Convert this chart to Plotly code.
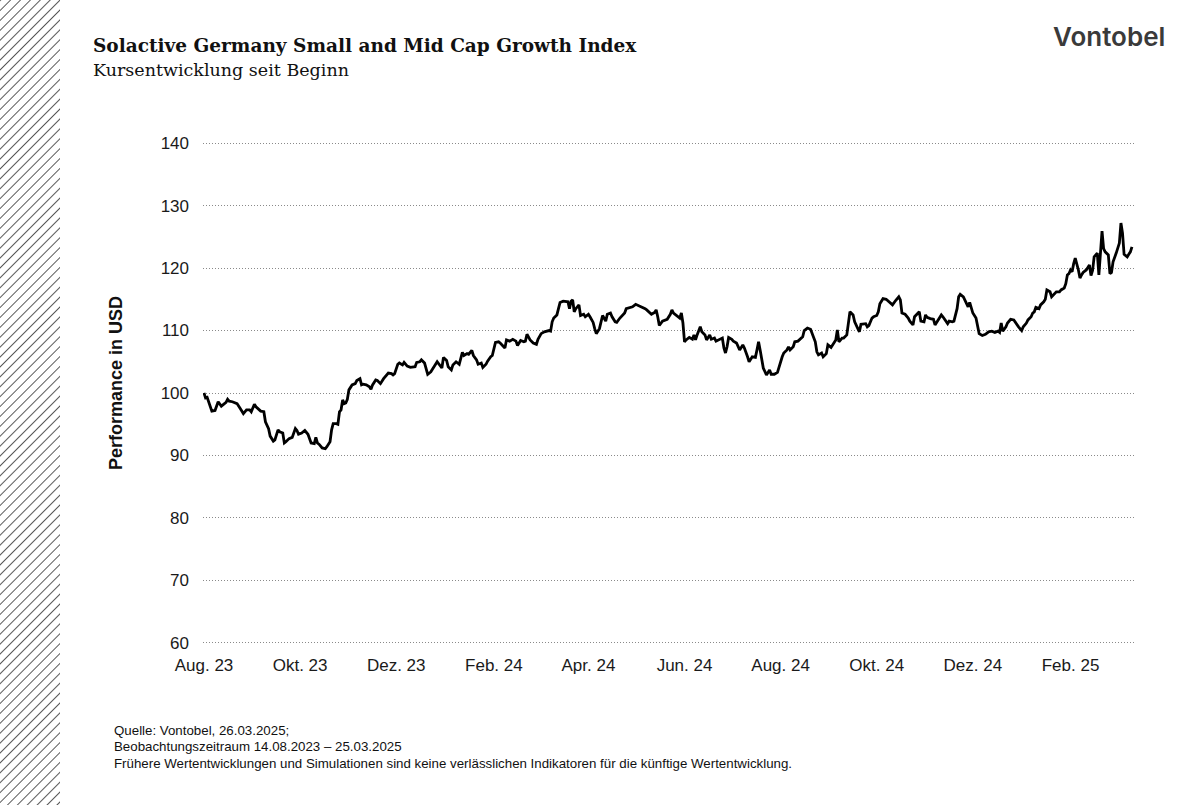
import base64
import pandas as pd
import plotly.graph_objects as go

START = "2023-08-14"
# calendar days since start date
days = [0, 1, 2, 4, 5, 7, 8, 9, 11, 12, 14, 15, 16, 18, 21, 23, 25, 27, 29, 30,
        32, 33, 35, 36, 38, 39, 41, 42, 44, 45, 47, 48, 50, 51, 52, 54, 56, 58, 59, 60,
        62, 64, 66, 68, 70, 71, 72, 73, 75, 77, 78, 80, 81, 82, 84, 85, 86, 87, 88, 89,
        90, 91, 92, 94, 96, 97, 99, 100, 101, 103, 105, 106, 107, 109, 110, 112, 114, 115, 117, 119,
        120, 121, 123, 124, 126, 127, 129, 131, 134, 135, 137, 138, 140, 142, 144, 145, 147, 148,
        151, 152, 154, 155, 157, 158, 160, 162, 164, 165, 167, 168, 170, 171, 173, 174, 176, 177,
        179, 180, 182, 183, 185, 187, 188, 190, 191, 192, 194, 196, 198, 199, 201, 203, 204, 205,
        207, 209, 211, 212, 214, 216, 219, 220, 221, 222, 224, 225, 226, 228, 230, 231, 232, 233,
        234, 235, 236, 238, 239, 241, 242, 244, 245, 247, 248, 249, 251, 252, 253, 255, 256, 258,
        259, 261, 262, 264, 266, 267, 268, 270, 272, 274, 276, 278, 280, 281, 283, 284, 286, 287,
        288, 289, 291, 294, 296, 297, 298, 300, 302, 303, 304, 305, 306, 308, 310, 311, 312, 313,
        315, 316, 318, 319, 321, 322, 324, 325, 327, 329, 330, 331, 332, 333, 335, 336, 338, 339,
        340, 342, 343, 345, 346, 348, 350, 351, 352, 353, 354, 355, 357, 359, 360, 362, 364, 365,
        367, 368, 370, 371, 372, 374, 375, 377, 378, 380, 381, 383, 385, 386, 388, 389, 390, 392,
        393, 395, 396, 398, 399, 401, 402, 403, 405, 406, 408, 409, 410, 412, 413, 415, 416, 417,
        420, 421, 422, 424, 425, 427, 428, 429, 431, 433, 435, 437, 439, 440, 441, 442, 443, 445,
        447, 448, 450, 451, 452, 454, 455, 457, 458, 459, 461, 463, 464, 466, 468, 469, 471, 472,
        473, 475, 476, 478, 479, 480, 482, 483, 485, 486, 487, 488, 490, 491, 492, 494, 496, 498,
        500, 502, 504, 505, 506, 507, 509, 510, 512, 514, 515, 517, 519, 520, 522, 523, 525, 526,
        527, 528, 530, 531, 533, 534, 535, 537, 538, 540, 541, 543, 544, 546, 547, 548, 549, 550,
        551, 552, 553, 555, 556, 557, 558, 560, 561, 562, 563, 564, 565, 567, 568, 569, 570, 571,
        572, 574, 575, 576, 577, 579, 580, 581, 582, 583, 584, 586, 587, 588, 589]

values = [100.0, 99.2, 99.3, 97.9, 97.1, 97.2, 97.9, 98.6, 97.9, 98.1, 98.5, 99.0, 98.7, 98.6, 98.3, 97.5, 96.7, 97.3, 97.3, 97.0,
          98.2, 97.8, 97.3, 97.1, 97.0, 95.4, 94.3, 93.1, 92.3, 92.5, 94.1, 93.8, 93.6, 92.0, 92.2, 92.7, 92.9, 94.3, 94.0, 93.4,
          93.6, 94.0, 93.4, 92.0, 91.9, 92.9, 92.0, 91.8, 91.2, 91.1, 91.4, 92.2, 94.1, 95.1, 95.1, 95.0, 97.0, 97.3, 98.9, 98.3,
          98.4, 99.0, 100.5, 101.3, 101.5, 102.0, 102.3, 101.3, 101.4, 101.3, 101.0, 100.6, 101.3, 102.1, 102.0, 101.5, 102.3, 102.6, 103.2, 103.1,
          102.9, 103.1, 104.6, 104.8, 104.5, 104.9, 104.3, 104.1, 104.2, 104.9, 105.0, 105.3, 104.8, 103.0, 103.4, 103.8, 104.6, 105.0,
          104.0, 105.7, 105.2, 104.2, 103.7, 104.5, 105.0, 104.6, 106.5, 106.0, 106.3, 106.2, 106.8, 106.0, 105.3, 104.6, 104.8, 104.1,
          104.6, 105.1, 105.8, 106.0, 108.1, 108.2, 108.0, 107.4, 107.2, 108.5, 108.3, 108.6, 108.3, 107.6, 108.4, 108.2, 108.3, 109.4,
          108.5, 108.0, 107.8, 108.6, 109.5, 109.8, 110.0, 109.9, 111.4, 112.0, 112.5, 113.5, 114.5, 114.7, 114.7, 114.6, 113.5, 114.7,
          114.9, 113.0, 113.5, 114.1, 112.4, 112.6, 112.2, 112.6, 112.2, 111.3, 110.3, 109.5, 110.3, 111.2, 112.4, 111.5, 112.6, 112.8,
          112.2, 111.4, 111.3, 112.0, 112.5, 112.8, 113.5, 113.6, 113.8, 114.2, 114.0, 113.8, 113.5, 113.3, 112.8, 112.6, 112.9, 113.3,
          112.2, 110.8, 111.5, 111.8, 112.6, 113.3, 112.8, 112.4, 112.0, 112.8, 111.2, 108.2, 108.5, 108.9, 108.6, 109.3, 108.5, 109.3,
          110.6, 109.8, 109.3, 108.5, 109.3, 108.6, 108.8, 108.3, 108.5, 108.8, 107.2, 106.4, 107.4, 108.9, 108.6, 108.3, 108.0, 107.4,
          106.9, 107.7, 107.2, 105.8, 105.0, 105.8, 105.7, 106.9, 108.2, 106.9, 105.6, 104.0, 102.9, 103.7, 103.0, 103.0, 103.3, 104.2,
          105.8, 106.4, 106.9, 107.4, 106.9, 107.4, 108.2, 108.3, 108.5, 109.0, 110.0, 110.4, 110.2, 109.5, 108.2, 106.6, 106.1, 106.4,
          105.8, 106.3, 107.7, 107.3, 107.7, 108.5, 110.1, 108.2, 108.8, 108.8, 109.3, 111.4, 113.0, 112.5, 111.4, 110.3, 109.8, 111.0,
          111.1, 110.6, 110.8, 112.0, 112.2, 112.4, 113.0, 114.3, 115.1, 115.0, 114.6, 114.1, 114.8, 115.1, 115.4, 114.9, 112.8, 112.6,
          112.0, 111.5, 110.9, 112.2, 112.5, 113.0, 111.5, 111.4, 112.5, 112.1, 111.9, 111.8, 110.9, 111.8, 112.5, 112.2, 111.5, 111.1,
          111.5, 111.4, 111.5, 113.5, 115.4, 115.8, 115.4, 114.9, 113.8, 114.5, 113.8, 112.8, 112.0, 110.9, 109.5, 109.2, 109.4, 109.8,
          109.9, 109.7, 109.9, 109.7, 111.2, 109.9, 110.6, 111.2, 111.8, 111.7, 111.3, 110.6, 110.0, 110.6, 111.2, 111.7, 112.2, 112.8,
          113.0, 113.7, 113.5, 114.1, 114.6, 115.0, 116.5, 116.2, 115.4, 116.0, 116.2, 116.2, 116.5, 116.8, 117.5, 118.9, 119.1, 119.7,
          119.4, 120.7, 121.6, 119.7, 118.4, 118.9, 119.3, 119.7, 120.2, 120.5, 118.8, 119.6, 121.8, 122.4, 118.9, 122.0, 125.9, 123.1,
          122.6, 122.1, 119.1, 119.3, 121.0, 122.4, 123.1, 124.0, 127.2, 125.6, 122.2, 121.8, 122.2, 122.6, 123.4]

tick_dates = ["2023-08-14", "2023-10-14", "2023-12-14", "2024-02-14", "2024-04-14",
              "2024-06-14", "2024-08-14", "2024-10-14", "2024-12-14", "2025-02-14"]
tick_labels = ["Aug. 23", "Okt. 23", "Dez. 23", "Feb. 24", "Apr. 24",
               "Jun. 24", "Aug. 24", "Okt. 24", "Dez. 24", "Feb. 25"]
y_ticks = [60, 70, 80, 90, 100, 110, 120, 130, 140]

title = "Solactive Germany Small and Mid Cap Growth Index"
subtitle = "Kursentwicklung seit Beginn"
y_title = "Performance in USD"
footnotes = ["Quelle: Vontobel, 26.03.2025;",
             "Beobachtungszeitraum 14.08.2023 – 25.03.2025",
             "Frühere Wertentwicklungen und Simulationen sind keine verlässlichen Indikatoren für die künftige Wertentwicklung."]

dates = pd.Timestamp(START) + pd.to_timedelta(days, unit="D")

W, H = 1194, 805
L, R, T, B = 203, 60, 140, 159
PW, PH = W - L - R, H - T - B


def px(x):
    return (x - L) / PW


def py(y):
    return (H - B - y) / PH


fig = go.Figure()
fig.add_trace(go.Scatter(x=dates, y=values, mode="lines",
                         line=dict(color="#000000", width=2.8), hoverinfo="skip"))

sans = "Liberation Sans, Arial, sans-serif"
fig.update_layout(
    width=W, height=H,
    margin=dict(l=L, r=R, t=T, b=B),
    paper_bgcolor="white", plot_bgcolor="white",
    showlegend=False,
    xaxis=dict(type="date", range=["2023-08-13 09:00", "2025-03-26 07:00"],
               tickvals=tick_dates, ticktext=tick_labels, showgrid=False,
               zeroline=False, showline=False, ticks="",
               tickfont=dict(family=sans, size=17, color="#1a1a1a"),
               ticklabelstandoff=7),
    yaxis=dict(range=[59.5, 140.5], tickvals=y_ticks, showgrid=True,
               gridcolor="#8a8a8a", griddash="1px,2px", gridwidth=1,
               zeroline=False, showline=False, ticks="",
               tickfont=dict(family=sans, size=17, color="#1a1a1a"),
               ticklabelstandoff=13),
)

# hatched band on the left edge
svg = ('<svg xmlns="http://www.w3.org/2000/svg" width="60" height="805">'
       '<defs><pattern id="p" width="7" height="7" patternUnits="userSpaceOnUse" '
       'patternTransform="rotate(45)"><line x1="0" y1="0" x2="0" y2="7" '
       'stroke="#111" stroke-width="1.4"/></pattern></defs>'
       '<rect width="60" height="805" fill="url(#p)"/></svg>')
src = "data:image/svg+xml;base64," + base64.b64encode(svg.encode()).decode()
fig.add_layout_image(dict(source=src, xref="paper", yref="paper",
                          x=px(0), y=py(0), sizex=60 / PW, sizey=805 / PH,
                          xanchor="left", yanchor="top", sizing="stretch",
                          layer="below"))

serif = "DejaVu Serif, Georgia, serif"
fig.add_annotation(text="<b>" + title + "</b>", xref="paper", yref="paper",
                   x=px(91), y=py(46), xanchor="left", yanchor="middle",
                   showarrow=False, font=dict(family=serif, size=18.5, color="#111"))
fig.add_annotation(text=subtitle, xref="paper", yref="paper",
                   x=px(91), y=py(70), xanchor="left", yanchor="middle",
                   showarrow=False, font=dict(family=serif, size=17.5, color="#111"))
fig.add_annotation(text="Vontobel", xref="paper", yref="paper",
                   x=px(1109), y=py(36), xanchor="center", yanchor="middle",
                   showarrow=False,
                   font=dict(family="Inter, sans-serif", size=26, color="#3a3a3a", weight=600))
fig.add_annotation(text="<b>" + y_title + "</b>", xref="paper", yref="paper",
                   x=px(116), y=py(383), xanchor="center", yanchor="middle",
                   textangle=-90, showarrow=False,
                   font=dict(family=sans, size=18, color="#111"))
for t, yy in zip(footnotes, [730, 746, 763]):
    fig.add_annotation(text=t, xref="paper", yref="paper",
                       x=px(112), y=py(yy), xanchor="left", yanchor="middle",
                       showarrow=False, font=dict(family=sans, size=13.3, color="#111"))

fig.write_html("out.html", config={"displayModeBar": False},
               post_script="document.body.style.margin='0px';")
